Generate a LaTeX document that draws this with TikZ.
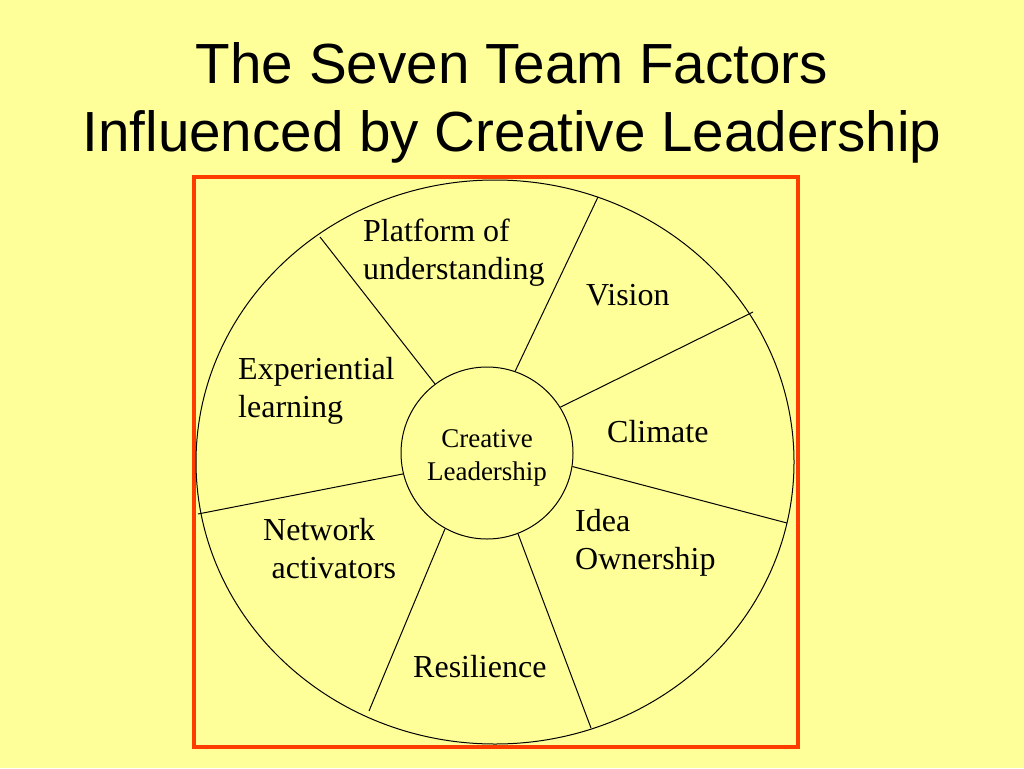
\documentclass[tikz,border=0pt]{standalone}
\usepackage{fontspec}
\setmainfont{Liberation Serif}
\newfontfamily\titlefont{Liberation Sans}
\usepackage{tikz}
\usetikzlibrary{positioning}
\definecolor{slideyellow}{RGB}{255,255,153}
\definecolor{framered}{RGB}{255,60,0}

\begin{document}
\begin{tikzpicture}[x=1pt,y=-1pt,
	factor/.style={anchor=base west,align=left,inner sep=0pt,font=\fontsize{32}{38}\selectfont},
	spoke/.style={-,line width=1pt}]
			\fill[slideyellow] (0,0) rectangle (1024,768);
			\useasboundingbox (0,0) rectangle (1024,768);
			\node[anchor=base,align=center,inner sep=0pt,font=\titlefont\fontsize{56.6}{68}\selectfont] (title) at (512,151) {The Seven Team Factors\\Influenced by Creative Leadership};
			\draw[framered,line width=4pt] (194,177) rectangle (797.5,747);
			\draw[line width=1pt] (495,462) ellipse [x radius=299pt, y radius=282pt];
			\node[shape=circle,draw=black,line width=1pt,minimum size=172pt,inner sep=0pt] (cl) at (487,453) {};
			\node[anchor=base,align=center,inner sep=0pt,font=\fontsize{27}{33}\selectfont] (cltext) at (487,480) {Creative\\Leadership};
			
			\coordinate (o1) at (320,237);
			\coordinate (o2) at (598,197);
			\coordinate (o3) at (753,312);
			\coordinate (o4) at (787,523);
			\coordinate (o5) at (591,728);
			\coordinate (o6) at (369,711);
			\coordinate (o7) at (198,514);
			\draw[spoke] (cl.127.5) -- (o1);
			\draw[spoke] (cl.71) -- (o2);
			\draw[spoke] (cl.32) -- (o3);
			\draw[spoke] (cl.-9) -- (o4);
			\draw[spoke] (cl.-69) -- (o5);
			\draw[spoke] (cl.-119) -- (o6);
			\draw[spoke] (cl.194) -- (o7);
			
			\node[factor] (platform) at (363,279) {Platform of\\understanding};
			\node[factor] (vision) at (586,305) {Vision};
			\node[factor] (experiential) at (238,417) {Experiential\\learning};
			\node[factor] (climate) at (607,442) {Climate};
			\node[factor] (idea) at (575,569) {Idea\\Ownership};
			\node[factor] (network) at (263,578) {Network\\\hspace*{8.5pt}activators};
			\node[factor] (resilience) at (413,677) {Resilience};
\end{tikzpicture}
\end{document}
